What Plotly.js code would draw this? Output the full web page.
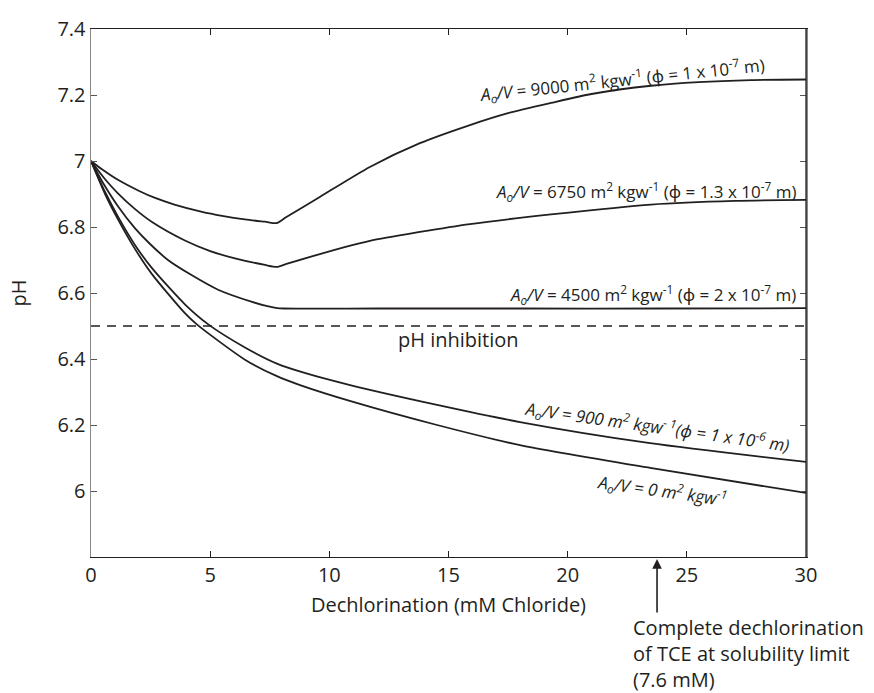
<!DOCTYPE html>
<html>
<head>
<meta charset="utf-8">
<script src="https://cdn.plot.ly/plotly-3.0.1.min.js"></script>
<style>html,body{margin:0;padding:0;background:#fff;}#chart{width:874px;height:693px;}</style>
</head>
<body>
<div id="chart"></div>
<script>
// Dechlorination (mM chloride) vs pH for different A0/V values
const x9000 = [0, 0.46, 1.13, 2.0, 2.69, 3.5, 4.66, 5.5, 6.46, 7.3, 7.8, 8.2, 9.6, 11.7, 13.8, 15.9, 17.5, 19.3, 21.0, 23.5, 25.5, 27.7, 30];
const y9000 = [7.0, 6.975, 6.943, 6.910, 6.888, 6.868, 6.846, 6.834, 6.823, 6.816, 6.812, 6.830, 6.891, 6.982, 7.054, 7.109, 7.145, 7.176, 7.203, 7.228, 7.239, 7.245, 7.247];

const x6750 = [0, 0.6, 1.13, 1.85, 2.56, 3.94, 5.0, 6.04, 7.3, 7.8, 8.2, 9.6, 11.7, 13.8, 15.9, 19.3, 23.5, 27.0, 30];
const y6750 = [7.0, 6.944, 6.902, 6.854, 6.815, 6.759, 6.727, 6.705, 6.685, 6.679, 6.688, 6.718, 6.758, 6.785, 6.809, 6.838, 6.868, 6.879, 6.882];

const x4500 = [0, 0.5, 1.13, 1.85, 2.5, 3.23, 4.2, 5.33, 6.76, 7.4, 7.75, 8.1, 12, 18, 24, 30];
const y4500 = [7.0, 6.934, 6.863, 6.796, 6.747, 6.700, 6.655, 6.610, 6.573, 6.560, 6.555, 6.553, 6.553, 6.553, 6.553, 6.554];

const x900 = [0, 0.59, 1.15, 1.85, 2.55, 3.95, 4.92, 6.46, 7.8, 9.0, 10.87, 14.52, 18.0, 23.46, 30];
const y900 = [7.0, 6.906, 6.829, 6.745, 6.676, 6.565, 6.505, 6.435, 6.386, 6.357, 6.321, 6.261, 6.209, 6.145, 6.088];

const x0 = [0, 0.59, 1.15, 1.85, 2.55, 3.95, 4.44, 6.46, 7.8, 8.77, 11.0, 14.52, 18.0, 23.46, 30];
const y0 = [7.0, 6.900, 6.821, 6.733, 6.658, 6.538, 6.505, 6.398, 6.348, 6.321, 6.270, 6.200, 6.139, 6.070, 5.994];

const inhibitionX = [0, 30];
const inhibitionY = [6.5, 6.5];

const xTicks = [0, 5, 10, 15, 20, 25, 30];
const yTicks = [6, 6.2, 6.4, 6.6, 6.8, 7, 7.2, 7.4];
const yTickText = ['6', '6.2', '6.4', '6.6', '6.8', '7', '7.2', '7.4'];

const curveLabels = [
  {x: 22.3, y: 7.247, angle: -6, text: '<i>A<sub>o</sub>/V</i> = 9000 m<sup>2</sup> kgw<sup>-1</sup> (ϕ = 1 x 10<sup>-7</sup> m)'},
  {x: 23.3, y: 6.908, angle: 0, text: '<i>A<sub>o</sub>/V</i> = 6750 m<sup>2</sup> kgw<sup>-1</sup> (ϕ = 1.3 x 10<sup>-7</sup> m)'},
  {x: 23.6, y: 6.594, angle: 0, text: '<i>A<sub>o</sub>/V</i> = 4500 m<sup>2</sup> kgw<sup>-1</sup> (ϕ = 2 x 10<sup>-7</sup> m)'},
  {x: 23.75, y: 6.196, angle: 8, text: '<i>A<sub>o</sub>/V = 900 m<sup>2</sup> kgw<sup>- 1</sup>(ϕ = 1 x 10<sup>-6</sup> m)</i>'},
  {x: 23.96, y: 6.003, angle: 8, text: '<i>A<sub>o</sub>/V = 0 m<sup>2</sup> kgw<sup>-1</sup></i>'}
];

const lineStyle = {color: '#231f20', width: 1.8, shape: 'spline', smoothing: 0.7};
const traces = [
  {x: x9000, y: y9000, mode: 'lines', line: lineStyle, hoverinfo: 'skip'},
  {x: x6750, y: y6750, mode: 'lines', line: lineStyle, hoverinfo: 'skip'},
  {x: x4500, y: y4500, mode: 'lines', line: lineStyle, hoverinfo: 'skip'},
  {x: x900, y: y900, mode: 'lines', line: lineStyle, hoverinfo: 'skip'},
  {x: x0, y: y0, mode: 'lines', line: lineStyle, hoverinfo: 'skip'},
  {x: inhibitionX, y: inhibitionY, mode: 'lines', line: {color: '#231f20', width: 1.6, dash: '9px,7px'}, hoverinfo: 'skip'}
];

const font = 'Open Sans, Noto Sans, sans-serif';
const annotations = curveLabels.map(l => ({
  x: l.x, y: l.y, xref: 'x', yref: 'y', text: l.text, textangle: l.angle,
  showarrow: false, xanchor: 'center', yanchor: 'middle',
  font: {family: font, size: 17, color: '#231f20'}
}));
annotations.push({
  x: 15.4, y: 6.458, xref: 'x', yref: 'y', text: 'pH inhibition', showarrow: false,
  font: {family: font, size: 20, color: '#231f20'}
});
annotations.push({
  x: 23.75, y: -0.004, xref: 'x', yref: 'paper', text: '', showarrow: true,
  ax: 0, ay: 55, arrowhead: 2, arrowsize: 1.2, arrowwidth: 1.6, arrowcolor: '#231f20'
});
annotations.push({
  x: 22.65, y: -0.104, xref: 'x', yref: 'paper', xanchor: 'left', yanchor: 'top', align: 'left',
  text: 'Complete dechlorination<br>of TCE at solubility limit<br>(7.6 mM)', showarrow: false,
  font: {family: font, size: 20, color: '#231f20'}
});

const layout = {
  width: 874, height: 693,
  margin: {l: 91, r: 68, t: 29, b: 136},
  paper_bgcolor: '#ffffff', plot_bgcolor: '#ffffff',
  showlegend: false,
  font: {family: font, color: '#231f20'},
  xaxis: {
    range: [0, 30], tickvals: xTicks, ticks: 'inside', ticklen: 6, tickcolor: '#231f20',
    showline: true, linecolor: '#231f20', linewidth: 1.3, mirror: 'ticks',
    showgrid: false, zeroline: false,
    tickfont: {family: font, size: 20, color: '#231f20'},
    title: {text: 'Dechlorination (mM Chloride)', font: {family: font, size: 20, color: '#231f20'}, standoff: 10}
  },
  yaxis: {
    range: [5.8, 7.4], tickvals: yTicks, ticktext: yTickText, ticks: 'inside', ticklen: 6, tickcolor: '#555',
    showline: true, linecolor: '#888', linewidth: 1.5, mirror: 'ticks',
    showgrid: false, zeroline: false,
    tickfont: {family: font, size: 20, color: '#231f20'},
    title: {text: 'pH', font: {family: font, size: 20, color: '#231f20'}, standoff: 25}
  },
  shapes: [
    {type: 'line', xref: 'paper', yref: 'paper', x0: 1, x1: 1, y0: 0, y1: 1, line: {color: '#231f20', width: 1.3}}
  ],
  annotations: annotations
};

Plotly.newPlot('chart', traces, layout, {displayModeBar: false, staticPlot: true});
</script>
</body>
</html>
